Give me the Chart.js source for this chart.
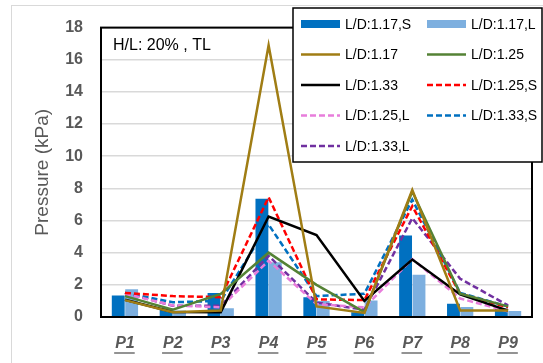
<!DOCTYPE html>
<html>
<head>
<meta charset="utf-8">
<title>Pressure chart</title>
<script src="https://cdn.jsdelivr.net/npm/chart.js@4.4.1/dist/chart.umd.min.js"></script>
<style>
    body { margin: 0; background: #ffffff; }
    #chartBox { position: relative; width: 543px; height: 363px; }
</style>
</head>
<body>
<div id="chartBox"><canvas id="pressureChart" width="543" height="363"></canvas></div>
<script>
    'use strict';

    // values
    var categories = ['P1', 'P2', 'P3', 'P4', 'P5', 'P6', 'P7', 'P8', 'P9'];
    var yTicks = [0, 2, 4, 6, 8, 10, 12, 14, 16, 18];

    var ld117S = [1.34, 0.55, 1.5, 7.35, 1.23, 0.3, 5.07, 0.82, 0.53];
    var ld117L = [1.72, 0.4, 0.55, 3.4, 1.0, 1.03, 2.63, 0.62, 0.37];
    var ld117 = [1.05, 0.3, 0.4, 16.9, 0.66, 0.25, 7.9, 0.41, 0.41];
    var ld125 = [1.3, 0.45, 1.44, 4.0, 2.0, 0.3, 7.8, 1.45, 0.66];
    var ld133 = [1.07, 0.31, 0.3, 6.25, 5.1, 1.0, 3.57, 1.4, 0.4];
    var ld125S = [1.5, 1.3, 1.23, 7.45, 1.1, 1.05, 6.9, 1.44, 0.6];
    var ld125L = [1.45, 0.72, 0.6, 3.5, 0.8, 0.6, 3.6, 1.15, 0.35];
    var ld133S = [1.5, 0.92, 1.0, 5.75, 1.3, 1.45, 7.3, 1.5, 0.65];
    var ld133L = [1.5, 0.7, 0.7, 3.8, 0.9, 0.45, 6.15, 2.38, 0.72];

    var FONT = "'Liberation Sans', Arial, sans-serif";
    var GREY_TEXT = '#595959';

    function barSet(label, data, color) {
        return {
            type: 'bar', label: label, data: data, order: 1,
            backgroundColor: color, borderWidth: 0,
            barPercentage: 0.96, categoryPercentage: 0.56
        };
    }

    function lineSet(label, data, color, dashed) {
        return {
            type: 'line', label: label, data: data, order: 0,
            borderColor: color, backgroundColor: color,
            borderWidth: 2.5, borderDash: dashed ? [6, 3] : [],
            pointRadius: 0, tension: 0, fill: false
        };
    }

    // grey chart frame, black plot frame, note text, underlines, legend box
    var decorPlugin = {
        id: 'decor',
        beforeDraw: function (chart) {
            var ctx = chart.ctx;
            ctx.save();
            ctx.strokeStyle = '#d9d9d9';
            ctx.lineWidth = 1;
            ctx.strokeRect(11.5, 5.5, 600, 400);
            ctx.restore();
        },
        afterDraw: function (chart) {
            var ctx = chart.ctx;
            var area = chart.chartArea;
            ctx.save();

            ctx.strokeStyle = '#000000';
            ctx.lineWidth = 2;
            ctx.strokeRect(area.left, area.top, area.right - area.left, area.bottom - area.top);

            ctx.fillStyle = '#000000';
            ctx.font = '16px ' + FONT;
            ctx.textBaseline = 'alphabetic';
            ctx.textAlign = 'left';
            ctx.fillText('H/L: 20% , TL', 113, 50);

            // underline the category labels
            var xScale = chart.scales.x;
            ctx.font = 'italic bold 16px ' + FONT;
            ctx.strokeStyle = GREY_TEXT;
            ctx.lineWidth = 1.3;
            categories.forEach(function (c, i) {
                var px = xScale.getPixelForTick(i);
                var w = ctx.measureText(c).width;
                ctx.beginPath();
                ctx.moveTo(px - w / 2 - 1, 353);
                ctx.lineTo(px + w / 2, 353);
                ctx.stroke();
            });

            // legend
            ctx.fillStyle = '#ffffff';
            ctx.fillRect(293, 8, 249, 154);
            ctx.strokeStyle = '#000000';
            ctx.lineWidth = 1.5;
            ctx.strokeRect(293, 8, 249, 154);

            ctx.font = '14px ' + FONT;
            ctx.textBaseline = 'middle';
            chart.data.datasets.forEach(function (ds, i) {
                var col = i % 2;
                var row = Math.floor(i / 2);
                var sx = col === 0 ? 301 : 427;
                var sy = 24 + row * 30.5;
                if (ds.type === 'bar') {
                    ctx.fillStyle = ds.backgroundColor;
                    ctx.fillRect(sx, sy - 4, 39, 8);
                } else {
                    ctx.strokeStyle = ds.borderColor;
                    ctx.lineWidth = 2.5;
                    ctx.setLineDash(ds.borderDash);
                    ctx.beginPath();
                    ctx.moveTo(sx, sy);
                    ctx.lineTo(sx + 39, sy);
                    ctx.stroke();
                    ctx.setLineDash([]);
                }
                ctx.fillStyle = '#000000';
                ctx.fillText(ds.label, sx + 44, sy + 1);
            });
            ctx.restore();
        }
    };

    var ctx = document.getElementById('pressureChart').getContext('2d');
    var myChart = new Chart(ctx, {
        data: {
            labels: categories,
            datasets: [
                barSet('L/D:1.17,S', ld117S, '#0070C0'),
                barSet('L/D:1.17,L', ld117L, '#7DAFDF'),
                lineSet('L/D:1.17', ld117, '#A07D14', false),
                lineSet('L/D:1.25', ld125, '#548235', false),
                lineSet('L/D:1.33', ld133, '#000000', false),
                lineSet('L/D:1.25,S', ld125S, '#FF0000', true),
                lineSet('L/D:1.25,L', ld125L, '#E87DDB', true),
                lineSet('L/D:1.33,S', ld133S, '#0070C0', true),
                lineSet('L/D:1.33,L', ld133L, '#7030A0', true)
            ]
        },
        options: {
            responsive: false,
            animation: false,
            layout: { padding: { left: 0, right: 11, top: 24, bottom: 0 } },
            plugins: {
                legend: { display: false },
                tooltip: { enabled: false }
            },
            scales: {
                x: {
                    type: 'category',
                    offset: true,
                    grid: { display: false, drawTicks: false },
                    border: { display: false },
                    ticks: {
                        padding: 17,
                        color: GREY_TEXT,
                        font: { family: FONT, size: 16, weight: 'bold', style: 'italic' }
                    },
                    afterFit: function (scale) { scale.height = 46; }
                },
                y: {
                    min: 0,
                    max: 18,
                    afterBuildTicks: function (scale) {
                        scale.ticks = yTicks.map(function (v) { return { value: v }; });
                    },
                    grid: { color: '#d9d9d9', lineWidth: 1.5, drawTicks: false },
                    border: { display: false },
                    ticks: {
                        padding: 18,
                        color: GREY_TEXT,
                        font: { family: FONT, size: 16, weight: 'bold' }
                    },
                    title: {
                        display: true,
                        text: 'Pressure (kPa)',
                        color: GREY_TEXT,
                        padding: { top: 31, bottom: 0 },
                        font: { family: FONT, size: 19 }
                    },
                    afterFit: function (scale) { scale.width = 101; }
                }
            }
        },
        plugins: [decorPlugin]
    });
</script>
</body>
</html>
